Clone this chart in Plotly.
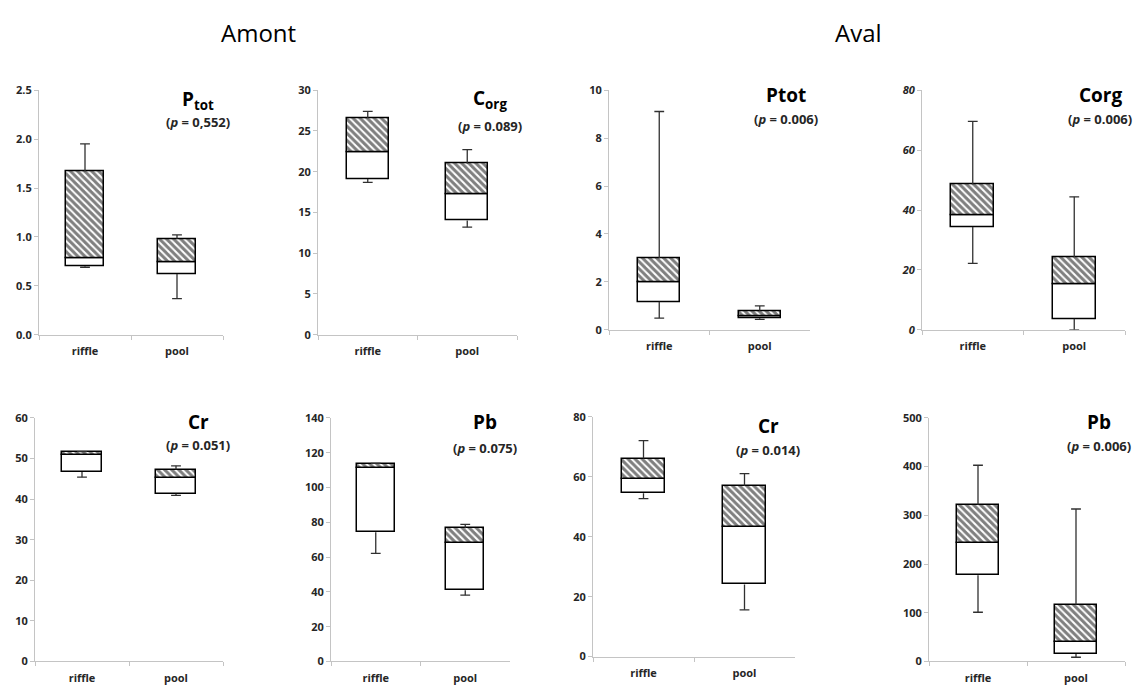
import plotly.graph_objects as go
from plotly.subplots import make_subplots

W, H = 1134, 690

sites = ["riffle", "pool"]

# Five-number summaries per site: [min, Q1, median, Q3, max]
ptot_amont_riffle = [0.69, 0.70, 0.78, 1.67, 1.95]
ptot_amont_pool = [0.37, 0.62, 0.74, 0.98, 1.02]
corg_amont_riffle = [18.7, 19.1, 22.4, 26.6, 27.4]
corg_amont_pool = [13.2, 14.0, 17.3, 21.0, 22.7]
ptot_aval_riffle = [0.49, 1.17, 1.99, 2.99, 9.11]
ptot_aval_pool = [0.44, 0.48, 0.58, 0.80, 1.00]
corg_aval_riffle = [22.2, 34.3, 38.3, 48.6, 69.6]
corg_aval_pool = [0.0, 3.7, 15.1, 24.3, 44.4]
cr_amont_riffle = [45.4, 46.7, 50.9, 51.6, 51.7]
cr_amont_pool = [40.9, 41.3, 45.2, 47.3, 48.2]
pb_amont_riffle = [62.1, 74.3, 111.3, 113.5, 113.9]
pb_amont_pool = [38.1, 40.9, 68.1, 76.6, 78.8]
cr_aval_riffle = [52.7, 54.5, 59.3, 66.1, 72.1]
cr_aval_pool = [15.6, 24.1, 43.3, 57.0, 61.1]
pb_aval_riffle = [101.0, 177.0, 244.0, 321.7, 402.8]
pb_aval_pool = [8.7, 15.4, 40.9, 116.6, 313.0]

titles = ["P<sub>tot</sub>", "C<sub>org</sub>", "Ptot", "Corg",
          "Cr", "Pb", "Cr", "Pb"]
pvalues = ["(<i>p</i> = 0,552)", "(<i>p</i> = 0.089)", "(<i>p</i> = 0.006)",
           "(<i>p</i> = 0.006)", "(<i>p</i> = 0.051)", "(<i>p</i> = 0.075)",
           "(<i>p</i> = 0.014)", "(<i>p</i> = 0.006)"]
y_max = [2.5, 30, 10, 80, 60, 140, 80, 500]
y_step = [0.5, 5, 2, 20, 10, 20, 20, 100]
y_format = [".1f", "d", "d", "d", "d", "d", "d", "d"]

panels = [
    (ptot_amont_riffle, ptot_amont_pool),
    (corg_amont_riffle, corg_amont_pool),
    (ptot_aval_riffle, ptot_aval_pool),
    (corg_aval_riffle, corg_aval_pool),
    (cr_amont_riffle, cr_amont_pool),
    (pb_amont_riffle, pb_amont_pool),
    (cr_aval_riffle, cr_aval_pool),
    (pb_aval_riffle, pb_aval_pool),
]

# plot areas in pixels: (left, right, top, bottom)
areas = [
    (39, 223, 84, 334), (318, 517, 84, 334), (609, 810, 84, 329), (922, 1125, 84, 329),
    (35, 223, 419, 668), (331, 510, 419, 668), (593, 795, 418, 663), (929, 1125, 419, 668),
]
# title / p-value label centres in pixels: (x, y_title, y_p)
label_pos = [
    (198, 94, 117), (490, 93, 121), (786, 89, 113), (1100, 89, 113),
    (198, 423, 447), (485, 423, 450), (768, 427, 452), (1099, 423, 448),
]

FONT = "Open Sans"
AXIS_GREY = "#c4c4c4"
TEXT = "#262626"
WHISKER = "#303030"

fig = make_subplots(rows=2, cols=4)

for i, (riffle, pool) in enumerate(panels):
    r, c = i // 4 + 1, i % 4 + 1
    stats = [riffle, pool]
    mins = [s[0] for s in stats]
    q1 = [s[1] for s in stats]
    med = [s[2] for s in stats]
    q3 = [s[3] for s in stats]
    maxs = [s[4] for s in stats]

    # whisker stems: Q3 -> max and Q1 -> min for each site
    sx, sy = [], []
    for k, site in enumerate(sites):
        sx += [site, site, None, site, site, None]
        sy += [q3[k], maxs[k], None, q1[k], mins[k], None]
    fig.add_trace(go.Scatter(
        x=sx, y=sy, mode="lines", line=dict(color=WHISKER, width=1.3),
        connectgaps=False, showlegend=False, hoverinfo="skip"), row=r, col=c)
    # whisker caps
    fig.add_trace(go.Scatter(
        x=sites + sites, y=maxs + mins, mode="markers",
        marker=dict(symbol="line-ew", size=7, line=dict(color=WHISKER, width=1.3)),
        showlegend=False, hoverinfo="skip"), row=r, col=c)
    # lower half of box (Q1 -> median), plain white
    fig.add_trace(go.Bar(
        x=sites, y=[m - a for m, a in zip(med, q1)], base=q1, width=0.42,
        marker=dict(color="white", line=dict(color="black", width=1.5)),
        showlegend=False, hoverinfo="skip"), row=r, col=c)
    # upper half of box (median -> Q3), hatched
    fig.add_trace(go.Bar(
        x=sites, y=[b - m for b, m in zip(q3, med)], base=med, width=0.42,
        marker=dict(color="white", line=dict(color="black", width=1.5),
                    pattern=dict(shape="\\", fgcolor="black", bgcolor="white",
                                 size=5, solidity=0.6)),
        showlegend=False, hoverinfo="skip"), row=r, col=c)

    left, right, top, bottom = areas[i]
    xa = "xaxis" if i == 0 else f"xaxis{i + 1}"
    ya = "yaxis" if i == 0 else f"yaxis{i + 1}"
    fig.layout[xa].update(
        domain=[left / W, right / W], range=[-0.5, 1.5],
        showline=True, linecolor=AXIS_GREY, linewidth=1,
        ticks="outside", tickson="boundaries", ticklen=4, tickcolor=AXIS_GREY,
        ticklabelstandoff=6,
        showgrid=False, zeroline=False,
        tickfont=dict(family=FONT, size=11, color=TEXT, weight="bold"))
    fig.layout[ya].update(
        domain=[1 - bottom / H, 1 - top / H], range=[0, y_max[i]],
        dtick=y_step[i], tick0=0, tickformat=y_format[i],
        showline=True, linecolor=AXIS_GREY, linewidth=1,
        ticks="outside", ticklen=4, tickcolor=AXIS_GREY,
        showgrid=False, zeroline=False,
        tickfont=dict(family=FONT, size=11, color=TEXT, weight="bold",
                      style="italic" if i == 3 else "normal"))

    lx, ty, py = label_pos[i]
    fig.add_annotation(text=f"<b>{titles[i]}</b>", x=lx / W, y=1 - ty / H,
                       xref="paper", yref="paper", showarrow=False,
                       xanchor="center", yanchor="middle",
                       font=dict(family=FONT, size=19, color="black"))
    fig.add_annotation(text=f"<b>{pvalues[i]}</b>", x=lx / W, y=1 - py / H,
                       xref="paper", yref="paper", showarrow=False,
                       xanchor="center", yanchor="middle",
                       font=dict(family=FONT, size=13, color=TEXT))

# section headings
for txt, cx in [("Amont", 258), ("Aval", 858)]:
    fig.add_annotation(text=txt, x=cx / W, y=1 - 25 / H, xref="paper", yref="paper",
                       showarrow=False, xanchor="center", yanchor="middle",
                       font=dict(family=FONT, size=24, color="black"))

fig.update_layout(
    width=W, height=H, margin=dict(l=0, r=0, t=0, b=0),
    paper_bgcolor="white", plot_bgcolor="white",
    barmode="overlay", bargap=0, showlegend=False,
)

fig.write_html("out.html")
